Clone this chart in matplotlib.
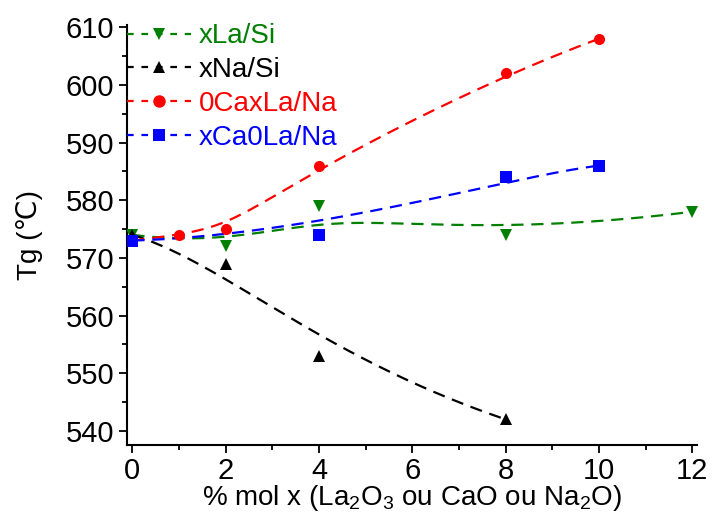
import numpy as np
import matplotlib
matplotlib.use("Agg")
import matplotlib.pyplot as plt
from matplotlib.lines import Line2D
from matplotlib.ticker import MultipleLocator

plt.rcParams['font.family'] = ['Liberation Sans', 'DejaVu Sans']
plt.rcParams['mathtext.fontset'] = 'custom'
plt.rcParams['mathtext.rm'] = 'Liberation Sans'
plt.rcParams['mathtext.it'] = 'Liberation Sans:italic'

# data
labels = ["xLa/Si", "xNa/Si", "0CaxLa/Na", "xCa0La/Na"]
colors = ["#008000", "black", "red", "blue"]
markers = ["v", "^", "o", "s"]

x_la_si = [0, 2, 4, 8, 12]
tg_la_si = [574, 572, 579, 574, 578]

x_na_si = [0, 2, 4, 8]
tg_na_si = [574, 569, 553, 542]

x_0caxla = [0, 1, 2, 4, 8, 10]
tg_0caxla = [573, 574, 575, 586, 602, 608]

x_xca0la = [0, 4, 8, 10]
tg_xca0la = [573, 574, 584, 586]

series = [(x_la_si, tg_la_si), (x_na_si, tg_na_si),
          (x_0caxla, tg_0caxla), (x_xca0la, tg_xca0la)]


def bspline(xs, ys, npts=200):
    # clamped uniform B-spline using the data points as control points
    P = np.column_stack([xs, ys]).astype(float)
    n = len(P)
    k = min(3, n - 1)
    inner = np.linspace(0, 1, n - k + 1)[1:-1]
    t = np.concatenate([np.zeros(k + 1), inner, np.ones(k + 1)])
    u = np.linspace(0, 1, npts)
    u[-1] = 1 - 1e-10
    # Cox-de Boor
    N = np.zeros((npts, len(t) - 1))
    for i in range(len(t) - 1):
        N[:, i] = ((u >= t[i]) & (u < t[i + 1])).astype(float)
    for d in range(1, k + 1):
        Nn = np.zeros((npts, len(t) - 1 - d))
        for i in range(len(t) - 1 - d):
            a = 0.0
            if t[i + d] != t[i]:
                a = (u - t[i]) / (t[i + d] - t[i]) * N[:, i]
            b = 0.0
            if t[i + d + 1] != t[i + 1]:
                b = (t[i + d + 1] - u) / (t[i + d + 1] - t[i + 1]) * N[:, i + 1]
            Nn[:, i] = a + b
        N = Nn
    C = N @ P
    return C[:, 0], C[:, 1]


fig = plt.figure(figsize=(7.12, 5.19), dpi=100)
ax = fig.add_axes([0.178, 0.143, 0.801, 0.808])

dash = (0, (5.5, 3.5))
handles = []
for (xs, ys), c, m, lab in zip(series, colors, markers, labels):
    cx, cy = bspline(xs, ys)
    ax.plot(cx, cy, linestyle=dash, color=c, lw=1.6, zorder=2)
    ax.plot(xs, ys, linestyle='none', marker=m, color=c, markersize=8,
            markeredgewidth=0, zorder=3)
    handles.append(Line2D([], [], color=c, lw=1.6, linestyle=(0, (3, 3.5)),
                          marker=m, markersize=9, markeredgewidth=0))

ax.set_xlim(-0.12, 12.1)
ax.set_ylim(537.6, 610.3)
ax.xaxis.set_major_locator(MultipleLocator(2))
ax.xaxis.set_minor_locator(MultipleLocator(1))
ax.yaxis.set_major_locator(MultipleLocator(10))
ax.yaxis.set_minor_locator(MultipleLocator(5))

for s in ['top', 'right']:
    ax.spines[s].set_visible(False)
for s in ['left', 'bottom']:
    ax.spines[s].set_linewidth(1.5)

ax.tick_params(which='major', direction='out', length=6, width=1.3,
               labelsize=21, pad=3)
ax.tick_params(which='minor', direction='out', length=3.5, width=1.3)

ax.set_xlabel(r"% mol x (La$_2$O$_3$ ou CaO ou Na$_2$O)", fontsize=20,
              labelpad=-2)
ax.set_ylabel("Tg (℃)", fontsize=20, labelpad=16)

leg = ax.legend(handles, labels, loc='upper left', bbox_to_anchor=(0.0, 1.005),
                frameon=False, fontsize=20, numpoints=1, handlelength=2.3,
                handletextpad=0.3, labelspacing=0.28, borderaxespad=0,
                borderpad=0)
for txt, c in zip(leg.get_texts(), colors):
    txt.set_color(c)

fig.savefig("out.png", dpi=100)
